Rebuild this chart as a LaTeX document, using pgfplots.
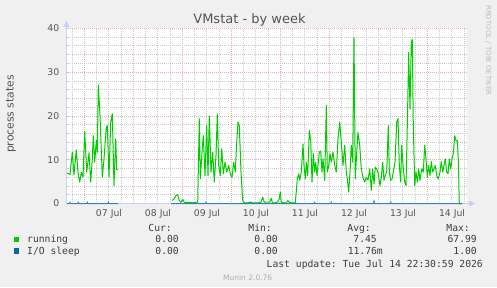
\documentclass[border=0pt]{standalone}
\usepackage{pgfplots}
\pgfplotsset{compat=1.18}
\usepackage{fontspec}
\setmainfont{DejaVu Sans}
\setmonofont{DejaVu Sans Mono}
\definecolor{bgc}{RGB}{240,240,240}
\definecolor{textgray}{RGB}{85,85,85}
\definecolor{legtext}{RGB}{60,60,60}
\definecolor{mgrid}{RGB}{238,172,172}
\definecolor{ggrid}{RGB}{200,200,200}
\definecolor{axiscol}{RGB}{200,208,245}
\definecolor{runc}{RGB}{0,204,0}
\definecolor{ioc}{RGB}{0,102,179}
\begin{document}
\begin{tikzpicture}[x=1pt,y=1pt]
\useasboundingbox (0,0) rectangle (497,287);
\fill[bgc] (0,0) rectangle (497,287);
\fill[white] (66.5,83.5) rectangle (466.5,258.5);
% axis lines with arrows
\draw[axiscol, line width=1pt] (66.5,83.5) -- (471,83.5);
\fill[axiscol] (475,83.5) -- (469,86.5) -- (469,80.5) -- cycle;
\draw[axiscol, line width=1pt] (66.5,83.5) -- (66.5,262);
\fill[axiscol] (66.5,266) -- (63.5,260) -- (69.5,260) -- cycle;
\begin{axis}[
  at={(66.5pt,83.5pt)}, anchor=south west,
  width=400pt, height=175pt, scale only axis,
  xmin=66.5, xmax=466.5, ymin=0, ymax=40,
  axis line style={draw=none},
  major tick length=0pt, minor tick length=0pt,
  xtick={84.5,133.5,182.5,231.5,280.5,329.5,378.5,427.5},
  xticklabels={},
  extra x ticks={109,158,207,256,305,354,403,452},
  extra x tick labels={07 Jul,08 Jul,09 Jul,10 Jul,11 Jul,12 Jul,13 Jul,14 Jul},
  extra x tick style={grid=none},
  minor xtick={72.5,96.5,108.5,121.5,145.5,157.5,170.5,194.5,206.5,219.5,243.5,255.5,268.5,292.5,304.5,317.5,341.5,353.5,366.5,390.5,402.5,415.5,439.5,451.5,464.5},
  ytick={10,20,30,40},
  extra y ticks={0},
  extra y tick style={grid=none},
  minor ytick={2,4,6,8,12,14,16,18,22,24,26,28,32,34,36,38},
  grid=both,
  major grid style={draw=mgrid, dash pattern=on 1pt off 1pt, dash phase=0.5pt, line width=1pt},
  minor grid style={draw=ggrid, dash pattern=on 1pt off 1pt, dash phase=0.5pt, line width=1pt},
  /pgf/number format/assume math mode=true,
  every tick label/.append style={font=\fontsize{9.3}{11}\selectfont, text=textgray},
  xticklabel style={inner sep=0pt, yshift=-6pt, anchor=north},
  yticklabel style={inner sep=0pt, xshift=-7pt, anchor=east},
  unbounded coords=jump,
  clip=false,
]
\addplot[runc, line width=1pt, line join=round] coordinates {
(67.3,6.93) (70,6.63) (72.3,11.7) (74,6.55) (76.3,12.27) (78,7.16) (79.7,4.88) (81.3,7.16) (83,6.02) (84.7,16.46) (86.7,7.16) (89,11.6) (90.7,4.88) (92.3,10.2) (93.3,15.5) (94.7,9.45) (96.3,14.4) (97.3,11.7) (98.3,27.1) (100,20.1) (102.3,6.02) (104,10.2) (106.3,17.4) (107.3,17.8) (109,6.02) (110.7,18.6) (112.3,20.5) (114,4.1) (115.7,14.8) (116.7,7.77) (118,7.77)
(140,nan)
(172,0.69) (174.3,1.07) (176,1.83) (177.7,1.98) (179.3,0.69) (181,0.3) (182.7,0.91) (184.3,0.3) (186,0.15) (187.7,0.23) (191,0.23) (192.7,0.15) (197.7,0.3) (199.3,19.4) (200.3,5.64) (202,11.7) (203.3,15.5) (205,6.4) (206.7,17.8) (208,6.4) (209.3,20.0) (211,7.2) (212.7,11.7) (214.3,4.9) (216,11.0) (217.3,20.5) (218.7,8.7) (220.3,6.4) (221.7,12.5) (223.3,6.8) (225,9.45) (226.7,7.2) (228.7,8.7) (230.3,6.8) (232,6.0) (233.7,9.45) (235.3,7.2) (236.7,14.0) (238,18.6) (239.3,17.8) (241,7.2) (242.7,0.69) (244.3,0.15) (247.7,0.15) (250,0.3) (253.3,0.15) (257.7,0.15) (261,0.3) (262.7,1.45) (264.3,0.3)
(269.7,0.3) (271.3,1.22) (272.3,0.15) (274.7,0.15) (277.3,0.3) (279,0.91) (280.3,2.6) (281.3,0.3) (284,0.15) (286.3,0.15) (288,0.69) (289,0.3) (291.3,0.15) (295.3,0.15) (297.3,5.6) (298.7,6.8) (299.7,5.3) (301.3,7.2) (303,13.6) (304,8.7) (305.3,5.6) (306.3,9.45) (307.7,6.4) (309.3,16.7) (310.7,14.4) (312,4.9) (313.3,11.4) (314.7,7.2) (315.7,9.45) (317,6.4) (318,8.7) (319.3,11.7) (320.7,12.0) (322,7.2) (323,10.2) (324.7,5.3) (326.3,22.4) (327.3,7.2) (328.7,8.7) (330,11.4) (331.3,9.45) (333,11.7) (334.7,8.7) (336.3,7.2) (338,14.8) (339.7,18.6) (341.3,14.0) (343,8.7) (344.7,13.3) (346.3,7.2) (347.3,5.6) (348.7,2.6) (350,7.2) (351.3,13.3) (352.7,9.45) (354,37.8) (355.3,5.6) (356.7,11.7) (358,16.3) (359.7,13.3) (361.3,7.9) (363,6.0) (364.7,4.9) (366.3,6.0) (368,5.3) (369.7,7.9) (371.3,3.0)
(372.7,7.9) (374,4.5) (375.3,8.3) (376.7,7.9) (378.3,6.8) (380,4.1) (381.3,6.0) (382.7,9.45) (384,5.3) (385.3,6.4) (386.7,7.2) (388.3,17.8) (389.3,7.2) (390.7,5.3) (392,5.6) (393.3,7.2) (395,9.45) (396.7,18.6) (398,19.4) (399.3,8.7) (400.7,4.9) (401.7,13.3) (403.3,7.9) (404.7,4.9) (406,4.1) (407.3,17.8) (408.7,34.6) (410,21.6) (411.3,36.9) (412.3,37.5) (413.3,17.8) (414.7,4.1) (416,7.2) (417.3,4.9) (418.7,7.9) (420,5.3) (421.7,7.9) (423.3,7.2) (424.7,13.3) (426,10.2) (427.3,6.0) (428.7,8.7) (430,6.4) (431.3,9.6) (432.7,7.2) (434,7.9) (435.3,8.7) (436.7,6.4) (438.3,5.6) (440,7.2) (441.3,9.6) (442.7,7.2) (444,8.7) (445.3,10.2) (446.7,7.2) (448,6.8) (449.3,10.2) (450.7,7.9) (452,10.2) (453.3,11.4) (454.7,15.5) (456,14.4) (457.3,14.4) (458.3,10.2) (459.3,0) (462,0)
};
\addplot[ioc, line width=1pt, opacity=0.75] coordinates {
(67,0) (69.3,0) (70,0.3) (70.7,0) (77.6,0) (78.3,0.3) (79,0) (86.6,0) (87.3,0.3) (88,0) (107.6,0) (108.3,0.3) (109,0) (118,0)
(140,nan)
(171,0) (205.3,0) (206,0.3) (206.7,0) (249.3,0) (250,0.2) (250.7,0) (314,0) (314.7,0.3) (315.4,0) (330.6,0) (331.3,0.3) (332,0) (373.3,0) (374,0.6) (374.7,0) (390,0) (390.7,0.3) (391.4,0) (462,0)
};
\end{axis}
% title and axis label
\node[anchor=base, text=textgray, font=\fontsize{13}{15}\selectfont, inner sep=0pt] at (249.5,263.5) {VMstat - by week};
\node[rotate=90, text=textgray, font=\fontsize{10.8}{12}\selectfont, inner sep=0pt] at (11,173) {process states};
\node[rotate=-90, anchor=west, text={rgb,255:red,190;green,190;blue,190}, font=\fontsize{7}{8}\selectfont, inner sep=0pt] at (488.5,282) {RRDTOOL / TOBI OETIKER};
% legend
\begin{scope}[every node/.style={inner sep=0pt, text=legtext, font=\ttfamily\fontsize{9.7}{11}\selectfont}]
\fill[runc] (14,45) rectangle (19.3,50.3);
\fill[ioc] (14,33.3) rectangle (19.3,38.6);
\node[anchor=base east] at (172,55.2) {Cur:};
\node[anchor=base east] at (272,55.2) {Min:};
\node[anchor=base east] at (371,55.2) {Avg:};
\node[anchor=base east] at (470,55.2) {Max:};
\node[anchor=base west] at (27,44.2) {running};
\node[anchor=base east] at (179,44.2) {0.00};
\node[anchor=base east] at (278,44.2) {0.00};
\node[anchor=base east] at (377,44.2) {7.45};
\node[anchor=base east] at (477,44.2) {67.99};
\node[anchor=base west] at (27,32.5) {I/O sleep};
\node[anchor=base east] at (179,32.5) {0.00};
\node[anchor=base east] at (278,32.5) {0.00};
\node[anchor=base east] at (383,32.5) {11.76m};
\node[anchor=base east] at (477,32.5) {1.00};
\node[anchor=base east] at (483,19.8) {Last update: Tue Jul 14 22:30:59 2026};
\end{scope}
\node[anchor=base, inner sep=0pt, text={rgb,255:red,175;green,175;blue,175}, font=\fontsize{7.5}{9}\selectfont] at (247.7,7) {Munin 2.0.76};
\end{tikzpicture}
\end{document}
